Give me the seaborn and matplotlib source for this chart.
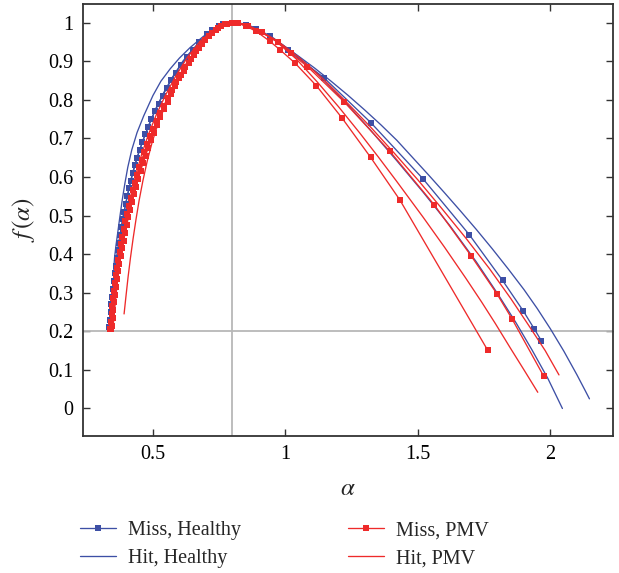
import matplotlib
matplotlib.use("Agg")
import matplotlib.pyplot as plt
from matplotlib.lines import Line2D
import seaborn as sns

# ---------------- data ----------------
# Miss, Healthy (blue, square markers)
mh_alpha = [0.335, 0.3375, 0.340, 0.343, 0.346, 0.349, 0.352, 0.3555, 0.359, 0.363, 0.367, 0.3715,
            0.376, 0.381, 0.386, 0.3915, 0.397, 0.403, 0.409, 0.416, 0.423, 0.431, 0.440, 0.450,
            0.460, 0.471, 0.482, 0.494, 0.507, 0.521, 0.536, 0.552, 0.568, 0.586, 0.606, 0.628,
            0.651, 0.675, 0.703, 0.722, 0.748, 0.765, 0.80,
            0.82, 0.85, 0.89, 0.94, 1.01, 1.145, 1.323, 1.519, 1.694, 1.819, 1.897, 1.939, 1.966]
mh_f = [0.21, 0.23, 0.25, 0.27, 0.29, 0.31, 0.33, 0.35, 0.37, 0.39, 0.41, 0.43,
        0.45, 0.47, 0.49, 0.51, 0.53, 0.55, 0.57, 0.59, 0.61, 0.63, 0.65, 0.67,
        0.69, 0.71, 0.73, 0.75, 0.77, 0.79, 0.81, 0.83, 0.85, 0.87, 0.89, 0.91,
        0.93, 0.95, 0.97, 0.98, 0.99, 0.995, 1.0,
        0.999, 0.993, 0.982, 0.964, 0.928, 0.857, 0.740, 0.595, 0.450, 0.332, 0.253, 0.206, 0.175]

# Hit, Healthy (blue lines)
h1_alpha = [0.352, 0.355, 0.36, 0.367, 0.375, 0.384, 0.394, 0.405, 0.42, 0.44, 0.465, 0.5, 0.53,
            0.565, 0.6, 0.64, 0.69, 0.74, 0.77, 0.80,
            0.86, 0.92, 0.98, 1.045, 1.11, 1.172, 1.235, 1.298, 1.36, 1.42, 1.48, 1.54, 1.60,
            1.66, 1.72, 1.78, 1.84, 1.90, 1.95, 2.0, 2.05, 2.10, 2.132, 2.147]
h1_f = [0.36, 0.39, 0.42, 0.455, 0.496, 0.54, 0.583, 0.625, 0.67, 0.715, 0.758, 0.811, 0.848,
        0.88, 0.908, 0.935, 0.964, 0.986, 0.996, 1.0,
        0.992, 0.972, 0.946, 0.915, 0.882, 0.848, 0.812, 0.774, 0.735, 0.695, 0.650, 0.605, 0.559,
        0.512, 0.464, 0.414, 0.362, 0.308, 0.259, 0.206, 0.149, 0.087, 0.045, 0.025]

h2_alpha = [0.338, 0.343, 0.348, 0.354, 0.361, 0.369, 0.378, 0.388, 0.400, 0.413, 0.428, 0.445,
            0.465, 0.488, 0.513, 0.542, 0.575, 0.613, 0.637, 0.664, 0.694, 0.728, 0.765, 0.80,
            0.84, 0.88, 0.95, 1.03, 1.12, 1.22, 1.32, 1.42, 1.52, 1.62, 1.72, 1.80, 1.87, 1.93,
            1.99, 2.045]
h2_f = [0.22, 0.26, 0.30, 0.34, 0.38, 0.42, 0.46, 0.50, 0.54, 0.58, 0.62, 0.66,
        0.70, 0.74, 0.78, 0.82, 0.86, 0.90, 0.92, 0.94, 0.96, 0.978, 0.993, 1.0,
        0.997, 0.988, 0.962, 0.922, 0.868, 0.798, 0.722, 0.642, 0.56, 0.474, 0.38, 0.298, 0.222,
        0.152, 0.078, 0.0]

# Miss, PMV (red, square markers)
r1_alpha = [0.338, 0.341, 0.344, 0.347, 0.350, 0.353, 0.357, 0.361, 0.365, 0.369, 0.374, 0.379,
            0.384, 0.390, 0.396, 0.402, 0.409, 0.416, 0.423, 0.431, 0.439, 0.448, 0.458, 0.468,
            0.479, 0.490, 0.502, 0.514, 0.527, 0.541, 0.556, 0.571, 0.587, 0.604, 0.622, 0.642,
            0.663, 0.686, 0.712, 0.737, 0.758, 0.780, 0.80,
            0.82, 0.85, 0.89, 0.94, 0.98, 1.036, 1.117, 1.213, 1.321, 1.431, 1.763]
r1_f = [0.205, 0.225, 0.245, 0.265, 0.285, 0.305, 0.325, 0.345, 0.365, 0.385, 0.405, 0.425,
        0.445, 0.465, 0.485, 0.505, 0.525, 0.545, 0.565, 0.585, 0.605, 0.625, 0.645, 0.665,
        0.685, 0.705, 0.725, 0.745, 0.765, 0.785, 0.805, 0.825, 0.845, 0.865, 0.885, 0.905,
        0.925, 0.945, 0.965, 0.98, 0.99, 0.997, 1.0,
        0.998, 0.991, 0.977, 0.952, 0.929, 0.895, 0.836, 0.753, 0.651, 0.541, 0.151]

r2_alpha = [0.343, 0.345, 0.348, 0.351, 0.354, 0.357, 0.361, 0.365, 0.369, 0.373, 0.378, 0.383,
            0.389, 0.395, 0.401, 0.407, 0.414, 0.421, 0.428, 0.436, 0.444, 0.453, 0.462, 0.472,
            0.482, 0.493, 0.504, 0.516, 0.528, 0.541, 0.555, 0.569, 0.584, 0.600, 0.617, 0.635,
            0.654, 0.675, 0.698, 0.722, 0.747, 0.772, 0.80,
            0.82, 0.86, 0.91, 0.97, 1.02, 1.083, 1.222, 1.393, 1.561, 1.70, 1.798, 1.855, 1.975]
r2_f = [0.205, 0.215, 0.235, 0.255, 0.275, 0.295, 0.315, 0.335, 0.355, 0.375, 0.395, 0.415,
        0.435, 0.455, 0.475, 0.495, 0.515, 0.535, 0.555, 0.575, 0.595, 0.615, 0.635, 0.655,
        0.675, 0.695, 0.715, 0.735, 0.755, 0.775, 0.795, 0.815, 0.835, 0.855, 0.875, 0.895,
        0.915, 0.935, 0.955, 0.972, 0.985, 0.995, 1.0,
        0.999, 0.992, 0.975, 0.95, 0.92, 0.886, 0.794, 0.667, 0.528, 0.396, 0.297, 0.232, 0.083]

# Hit, PMV (red lines)
l1_alpha = [0.391, 0.398, 0.406, 0.415, 0.425, 0.436, 0.448, 0.462, 0.478, 0.497, 0.52, 0.548,
            0.582, 0.622, 0.668, 0.72, 0.765, 0.80,
            0.84, 0.9, 0.97, 1.05, 1.14, 1.23, 1.32, 1.41, 1.5, 1.59, 1.68, 1.77, 1.85, 1.92,
            1.98, 2.032]
l1_f = [0.245, 0.29, 0.34, 0.39, 0.44, 0.49, 0.54, 0.59, 0.64, 0.69, 0.74, 0.79,
        0.84, 0.89, 0.935, 0.972, 0.992, 1.0,
        0.996, 0.98, 0.952, 0.91, 0.855, 0.794, 0.73, 0.662, 0.592, 0.518, 0.442, 0.362, 0.285,
        0.213, 0.15, 0.087]

l2_alpha = [0.35, 0.356, 0.363, 0.371, 0.38, 0.391, 0.404, 0.419, 0.437, 0.458, 0.483, 0.512,
            0.546, 0.585, 0.63, 0.68, 0.735, 0.80,
            0.83, 0.89, 0.96, 1.04, 1.12, 1.2, 1.28, 1.35, 1.418, 1.52, 1.6, 1.68, 1.74, 1.792,
            1.85, 1.9, 1.952]
l2_f = [0.215, 0.26, 0.31, 0.36, 0.41, 0.46, 0.51, 0.56, 0.61, 0.66, 0.71, 0.76,
        0.81, 0.86, 0.91, 0.953, 0.985, 1.0,
        0.997, 0.982, 0.954, 0.906, 0.846, 0.782, 0.714, 0.652, 0.59, 0.495, 0.418, 0.338, 0.276,
        0.22, 0.155, 0.1, 0.042]

legend_labels = ["Miss, Healthy", "Hit, Healthy", "Miss, PMV", "Hit, PMV"]
x_ticks = [0.5, 1, 1.5, 2]
x_tick_labels = ["0.5", "1", "1.5", "2"]
y_ticks = [0, 0.1, 0.2, 0.3, 0.4, 0.5, 0.6, 0.7, 0.8, 0.9, 1.0]
y_tick_labels = ["0", "0.1", "0.2", "0.3", "0.4", "0.5", "0.6", "0.7", "0.8", "0.9", "1"]

# ---------------- styling ----------------
sns.set_theme(style="ticks")
plt.rcParams['font.family'] = ['Liberation Serif', 'DejaVu Serif']
plt.rcParams['mathtext.fontset'] = 'stix'

BLUE = '#3D4FA5'
RED = '#EE2A2A'
GREY = '#b8b8b8'
LW = 0.95
MS = 5.0

fig = plt.figure(figsize=(6.19, 5.73), dpi=100)
ax = fig.add_axes([83 / 619, 1 - 435.5 / 573, (612.5 - 83) / 619, (435.5 - 4) / 573])

ax.axvline(0.8, color=GREY, lw=1.3, zorder=1)
ax.axhline(0.2, color=GREY, lw=1.3, zorder=1)

line_kw = dict(sort=False, estimator=None, errorbar=None, legend=False, ax=ax, lw=LW)
mark_kw = dict(marker='s', markersize=MS, markeredgewidth=0)

# blue first, red on top
sns.lineplot(x=h1_alpha, y=h1_f, color=BLUE, zorder=3, **line_kw)
sns.lineplot(x=h2_alpha, y=h2_f, color=BLUE, zorder=3, **line_kw)
sns.lineplot(x=mh_alpha, y=mh_f, color=BLUE, zorder=3, **line_kw, **mark_kw)
sns.lineplot(x=l1_alpha, y=l1_f, color=RED, zorder=4, **line_kw)
sns.lineplot(x=l2_alpha, y=l2_f, color=RED, zorder=4, **line_kw)
sns.lineplot(x=r1_alpha, y=r1_f, color=RED, zorder=4, **line_kw, **mark_kw)
sns.lineplot(x=r2_alpha, y=r2_f, color=RED, zorder=4, **line_kw, **mark_kw)

ax.set_xlim(0.236, 2.234)
ax.set_ylim(-0.07, 1.048)
ax.set_xticks(x_ticks)
ax.set_xticklabels(x_tick_labels)
ax.set_yticks(y_ticks)
ax.set_yticklabels(y_tick_labels)
ax.tick_params(direction='in', length=5, width=1.0, top=True, right=True,
               labelsize=14.5, color='#333333', labelcolor='black', pad=7)
for s in ax.spines.values():
    s.set_linewidth(1.3)
    s.set_color('#333333')

ax.set_xlabel(r'$\alpha$', fontsize=18, labelpad=10)
ax.set_ylabel(r'$f\,(\alpha)$', fontsize=18, labelpad=8)

handles = [
    Line2D([], [], color=BLUE, lw=LW, marker='s', markersize=4, markeredgewidth=0),
    Line2D([], [], color=BLUE, lw=LW),
    Line2D([], [], color=RED, lw=LW, marker='s', markersize=4, markeredgewidth=0),
    Line2D([], [], color=RED, lw=LW),
]
fig.legend(handles, legend_labels, ncol=2, loc='upper left',
           bbox_to_anchor=(80 / 619, 1 - 521 / 573), frameon=False, fontsize=14.5,
           handlelength=1.8, handletextpad=0.6, columnspacing=5.3, labelspacing=0.45,
           borderpad=0, borderaxespad=0)

fig.savefig('out.png', dpi=100)
